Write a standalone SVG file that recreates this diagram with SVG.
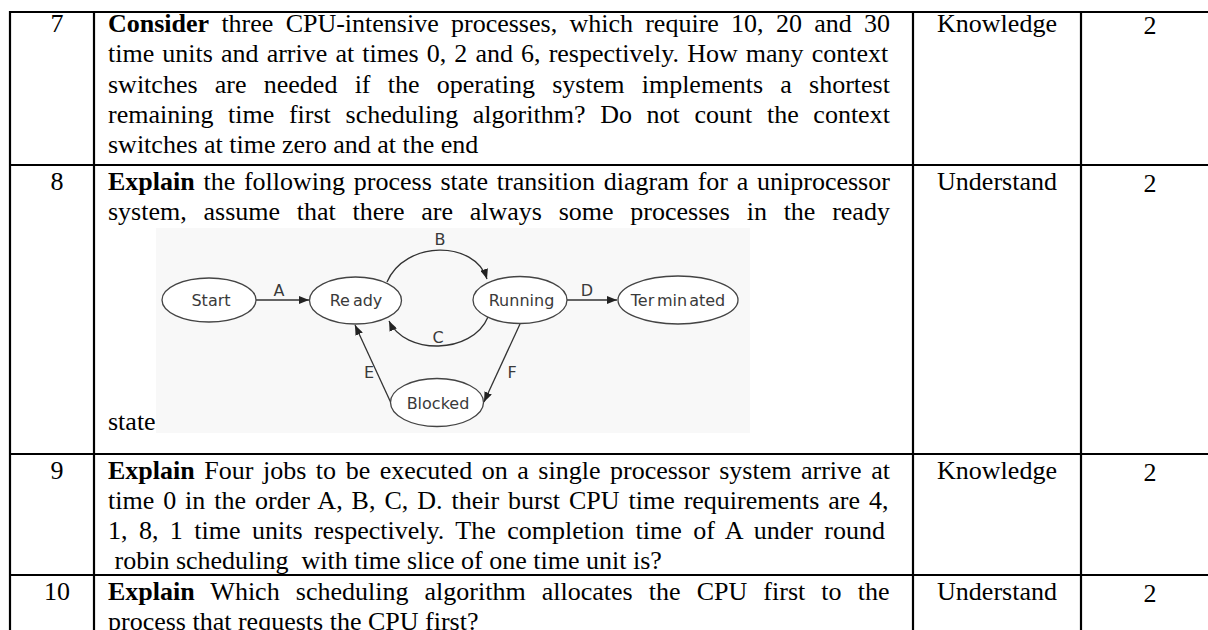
<svg xmlns="http://www.w3.org/2000/svg" width="1208" height="630" viewBox="0 0 1208 630">
<style>
.t{font-family:"Liberation Serif","Times New Roman",serif;font-size:26px;fill:#000}
.b{font-weight:bold}
.c{text-anchor:middle}
.g{stroke:#000;stroke-width:2.2;fill:none}
.n{fill:#fff;stroke:#444;stroke-width:1.3}
.l{font-family:"DejaVu Sans",Verdana,sans-serif;font-size:16px;fill:#3a3a3a;text-anchor:middle}
.e{stroke:#333;stroke-width:1.3;fill:none}
</style>
<defs>
<marker id="ah" viewBox="0 0 10 8" refX="10" refY="4" markerWidth="10" markerHeight="8" markerUnits="userSpaceOnUse" orient="auto">
<path d="M0,0 L10,4 L0,8 z" fill="#222"/>
</marker>
</defs>
<rect width="1208" height="630" fill="#fff"/>
<g id="grid">
<line class="g" x1="9" y1="12" x2="1208" y2="12"/>
<line class="g" x1="9" y1="165" x2="1208" y2="165"/>
<line class="g" x1="9" y1="454" x2="1208" y2="454"/>
<line class="g" x1="9" y1="575" x2="1208" y2="575"/>
<line class="g" x1="10" y1="11" x2="10" y2="630"/>
<line class="g" x1="94" y1="11" x2="94" y2="630"/>
<line class="g" x1="913" y1="11" x2="913" y2="630"/>
<line class="g" x1="1081" y1="11" x2="1081" y2="630"/>
</g>
<g id="row7">
<text class="t c" x="57" y="32">7</text>
<text class="t" x="108" y="32" word-spacing="5.77"><tspan class="b">Consider</tspan> three CPU-intensive processes, which require 10, 20 and 30</text>
<text class="t" x="108" y="62.3" word-spacing="1.61">time units and arrive at times 0, 2 and 6, respectively. How many context</text>
<text class="t" x="108" y="92.6" word-spacing="10.75">switches are needed if the operating system implements a shortest</text>
<text class="t" x="108" y="122.9" word-spacing="8.17">remaining time first scheduling algorithm? Do not count the context</text>
<text class="t" x="108" y="153.2">switches at time zero and at the end</text>
<text class="t c" x="997" y="32">Knowledge</text>
<text class="t c" x="1150" y="34">2</text>
</g>
<g id="row8">
<text class="t c" x="57" y="190">8</text>
<text class="t" x="108" y="190" word-spacing="2.23"><tspan class="b">Explain</tspan> the following process state transition diagram for a uniprocessor</text>
<text class="t" x="108" y="220.3" word-spacing="10.25">system, assume that there are always some processes in the ready</text>
<text class="t" x="108" y="430">state</text>
<text class="t c" x="997" y="190">Understand</text>
<text class="t c" x="1150" y="192">2</text>
</g>
<g id="diagram">
<rect x="156" y="228" width="594" height="205" fill="#f8f8f8"/>
<g id="connectors">
<line class="e" x1="256" y1="300" x2="309" y2="300" marker-end="url(#ah)"/>
<path class="e" d="M387,282 C405,240 475,240 487,279" marker-end="url(#ah)"/>
<path class="e" d="M488,317 C472,355 405,355 389,321" marker-end="url(#ah)"/>
<line class="e" x1="567" y1="300" x2="617" y2="300" marker-end="url(#ah)"/>
<line class="e" x1="391" y1="403" x2="355" y2="325" marker-end="url(#ah)"/>
<line class="e" x1="520" y1="324" x2="484" y2="402" marker-end="url(#ah)"/>
<text class="l" x="279" y="296">A</text>
<text class="l" x="440" y="245">B</text>
<text class="l" x="438" y="343">C</text>
<text class="l" x="587" y="296">D</text>
<text class="l" x="369" y="378">E</text>
<text class="l" x="512" y="378">F</text>
</g>
<g id="node-start">
<ellipse class="n" cx="209" cy="300" rx="47" ry="22"/>
<text class="l" x="211" y="306">Start</text>
</g>
<g id="node-ready">
<ellipse class="n" cx="355.5" cy="300.5" rx="46" ry="23.5"/>
<text class="l" x="356" y="306">Re<tspan dx="3">ady</tspan></text>
</g>
<g id="node-running">
<ellipse class="n" cx="520" cy="300" rx="47" ry="23.5"/>
<text class="l" x="521.5" y="306">Running</text>
</g>
<g id="node-terminated">
<ellipse class="n" cx="678" cy="300" rx="60" ry="24"/>
<text class="l" x="678" y="306">Ter<tspan dx="3">min</tspan><tspan dx="2">ated</tspan></text>
</g>
<g id="node-blocked">
<ellipse class="n" cx="437" cy="402.5" rx="46.5" ry="24"/>
<text class="l" x="438" y="408.5">Blocked</text>
</g>
</g>
<g id="row9">
<text class="t c" x="57" y="479">9</text>
<text class="t" x="108" y="479" word-spacing="3.06"><tspan class="b">Explain</tspan> Four jobs to be executed on a single processor system arrive at</text>
<text class="t" x="108" y="509" word-spacing="2.45">time 0 in the order A, B, C, D. their burst CPU time requirements are 4,</text>
<text class="t" x="108" y="539" word-spacing="4.93">1, 8, 1 time units respectively. The completion time of A under round</text>
<text class="t" x="108" y="569" xml:space="preserve" style="white-space:pre"> robin scheduling  with time slice of one time unit is?</text>
<text class="t c" x="997" y="479">Knowledge</text>
<text class="t c" x="1150" y="481">2</text>
</g>
<g id="row10">
<text class="t c" x="57" y="600">10</text>
<text class="t" x="108" y="600" word-spacing="9.61"><tspan class="b">Explain</tspan> Which scheduling algorithm allocates the CPU first to the</text>
<text class="t" x="108" y="630">process that requests the CPU first?</text>
<text class="t c" x="997" y="600">Understand</text>
<text class="t c" x="1150" y="602">2</text>
</g>
</svg>
